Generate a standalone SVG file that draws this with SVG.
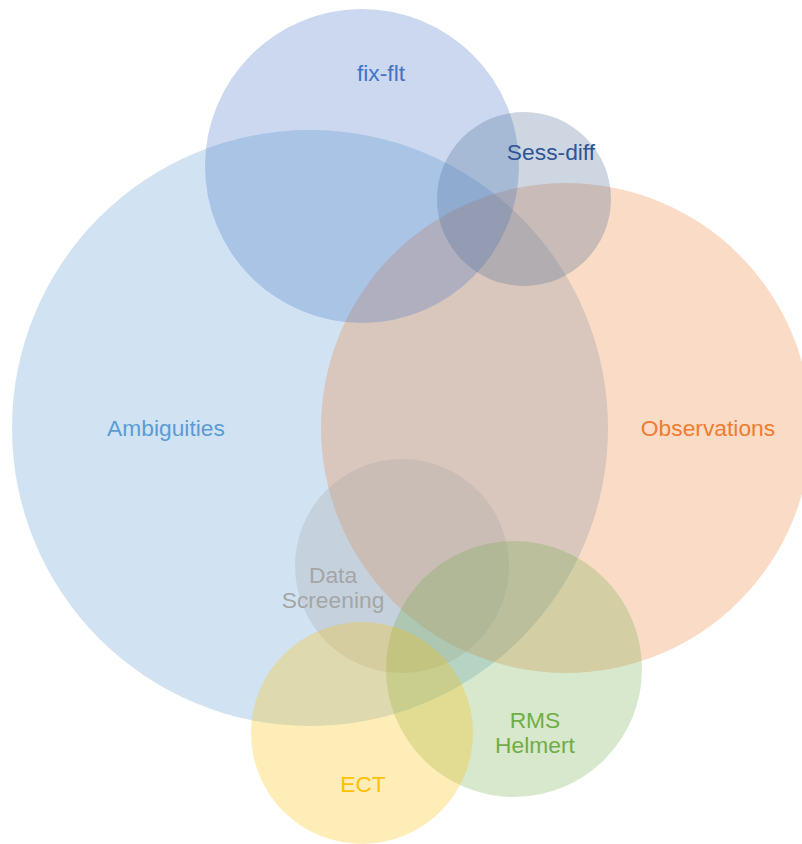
<svg xmlns="http://www.w3.org/2000/svg" width="802" height="844" viewBox="0 0 802 844">
<style>
circle{fill-opacity:0.28;stroke:none}
text{font-family:"Liberation Sans",Arial,sans-serif;font-size:22.8px;text-anchor:middle}
</style>
<rect width="802" height="844" fill="#ffffff"/>
<g id="ambiguities"><circle cx="310" cy="428" r="298" fill="#5B9BD5"/><text x="166" y="436" fill="#5B9BD5">Ambiguities</text></g>
<g id="observations"><circle cx="566" cy="428" r="245" fill="#ED7D31"/><text x="708" y="436" fill="#ED7D31">Observations</text></g>
<g id="fixflt"><circle cx="362" cy="166" r="157" fill="#4472C4"/><text x="381" y="81" fill="#4472C4">fix-flt</text></g>
<g id="sessdiff"><circle cx="524" cy="199" r="87" fill="#4A6A92"/><text x="551" y="160" fill="#2F5597">Sess-diff</text></g>
<g id="datascreening"><circle cx="402" cy="566" r="107" fill="#A5A5A5"/><text x="333" y="583" fill="#A5A5A5">Data</text><text x="333" y="608" fill="#A5A5A5">Screening</text></g>
<g id="rmshelmert"><circle cx="514" cy="669" r="128" fill="#70AD47"/><text x="535" y="728" fill="#70AD47">RMS</text><text x="535" y="753" fill="#70AD47">Helmert</text></g>
<g id="ect"><circle cx="362" cy="733" r="111" fill="#FFC000"/><text x="363" y="792" fill="#FFC000">ECT</text></g>
<g id="connectors"></g>
</svg>
